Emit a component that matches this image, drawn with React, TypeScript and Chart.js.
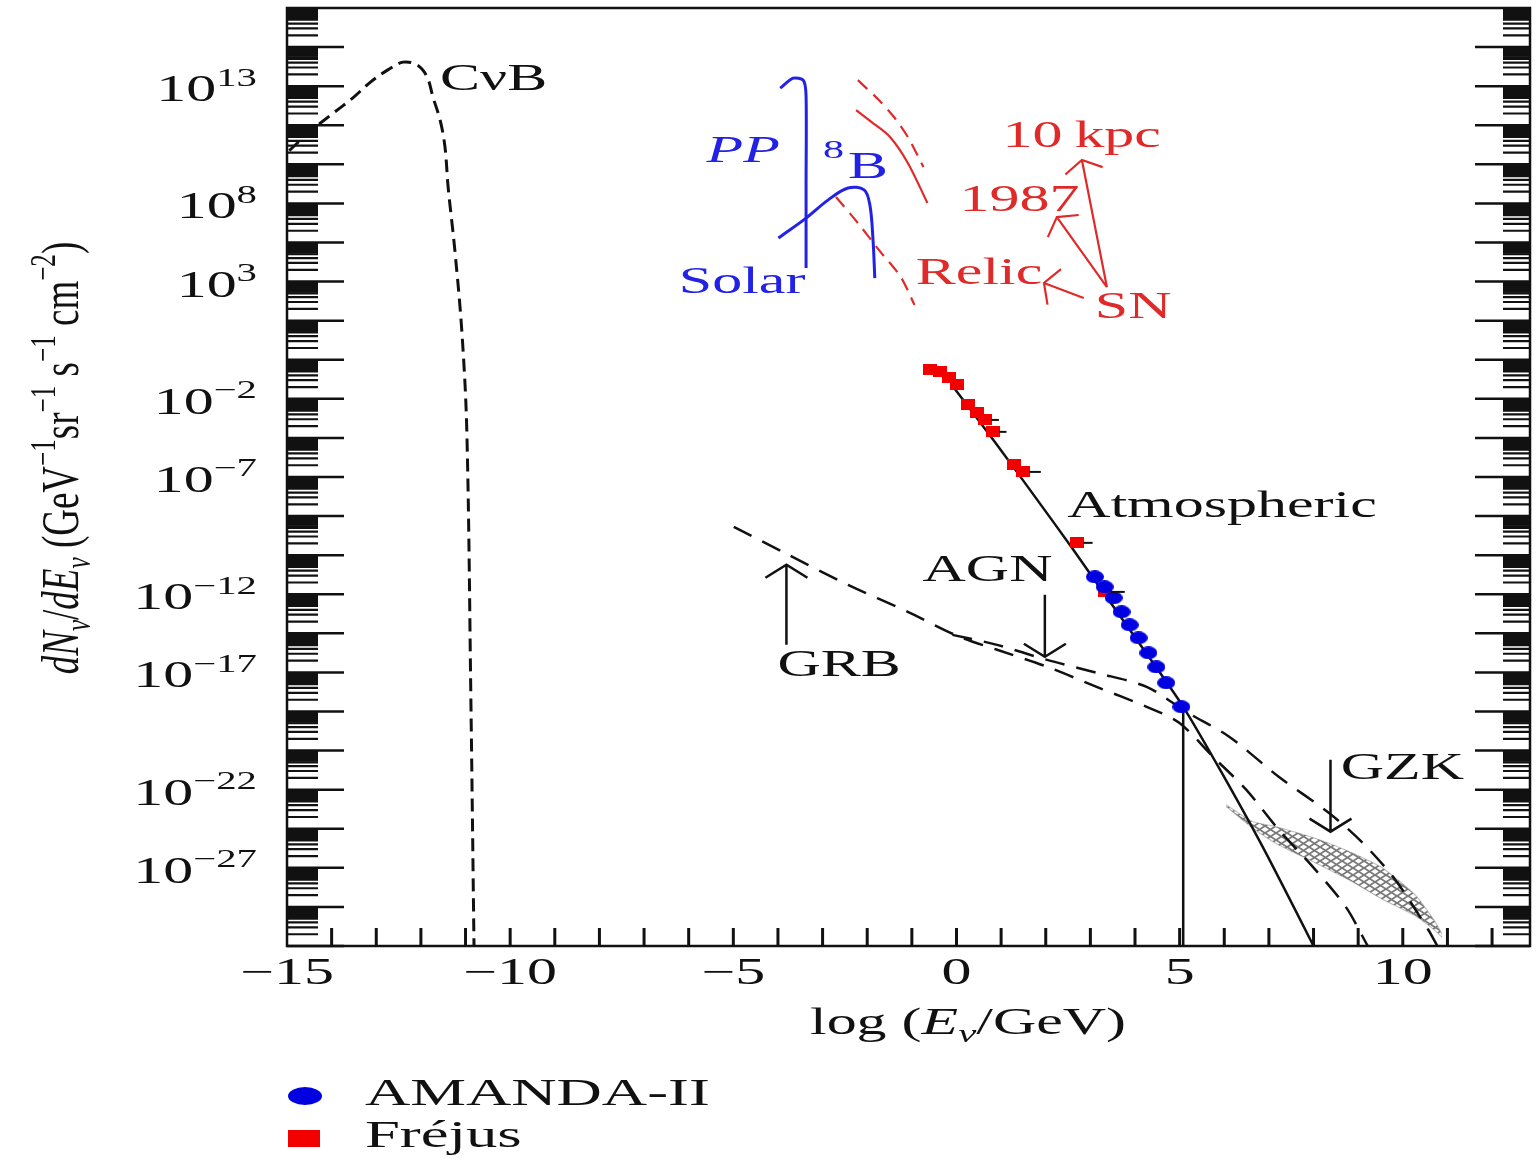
import React, { useEffect, useRef } from "react";
import { Chart, registerables } from "chart.js";

Chart.register(...registerables);

// x = log10(E / GeV), y = log10 of dN/dE flux (decades)
const X_MIN = -15;
const X_MAX = 12.85;
const Y_MIN = -31;
const Y_MAX = 17;
const X_TICK_LABELS = [-15, -10, -5, 0, 5, 10];
const Y_LABEL_POS = [13, 7, 3, -3, -7, -13, -17, -23, -27];
const Y_LABEL_EXP = ["13", "8", "3", "\u22122", "\u22127", "\u221212", "\u221217", "\u221222", "\u221227"];

// Cosmic neutrino background (CνB)
const CNB_X = [-14.95, -14.5, -14.02, -13.53, -13.13, -12.75, -12.4, -12.08, -11.86, -11.73, -11.57, -11.46, -11.39, -11.24, -11.08, -10.97, -10.88, -10.81];
const CNB_Y = [9.7, 10.65, 11.52, 12.39, 13.21, 13.82, 14.23, 14.08, 13.47, 12.44, 11.27, 9.88, 7.84, 4.62, 0.37, -4.74, -18.4, -31.0];

// Solar pp line
const PP_X = [-3.95, -3.66, -3.43, -3.37, -3.37, -3.37];
const PP_Y = [12.9, 13.41, 13.3, 12.5, 8.0, 3.7];

// Solar 8B spectrum
const B8_X = [-3.99, -3.37, -2.88, -2.43, -2.07, -1.94, -1.87, -1.83];
const B8_Y = [5.23, 6.25, 7.17, 7.79, 7.69, 6.92, 5.13, 3.18];

// Supernova curves
const SN1987_X = [-2.25, -1.9, -1.49, -1.09, -0.65];
const SN1987_Y = [11.78, 11.16, 10.4, 9.07, 7.02];
const SN10KPC_X = [-2.21, -1.74, -1.4, -1.09, -0.74];
const SN10KPC_Y = [13.31, 12.29, 11.42, 10.4, 8.86];
const RELIC_X = [-2.7, -2.21, -1.74, -1.25, -0.94];
const RELIC_Y = [7.33, 6.0, 4.62, 3.24, 1.8];

// Atmospheric spectrum
const ATM_X = [-0.1, 0.91, 1.81, 2.59, 3.14, 4.04, 5.08, 5.93, 6.87, 8.0, 8.1];
const ATM_Y = [-2.3, -5.36, -8.17, -10.63, -12.42, -15.33, -18.76, -22.08, -25.97, -31.0, -31.5];

// Fréjus data
const FREJUS_X = [-0.6, -0.38, -0.16, 0.02, 0.25, 0.47, 0.65, 0.82, 1.29, 1.49, 2.7, 3.32];
const FREJUS_Y = [-1.52, -1.62, -1.93, -2.29, -3.31, -3.72, -4.08, -4.69, -6.38, -6.74, -10.37, -12.88];
const FREJUS_XERR = [0, 0, 0, 0, 0, 0, 0.3, 0.3, 0, 0.4, 0.35, 0.45];

// AMANDA-II data
const AMANDA_X = [3.1, 3.32, 3.52, 3.7, 3.88, 4.08, 4.3, 4.48, 4.7, 5.04];
const AMANDA_Y = [-12.11, -12.62, -13.18, -13.9, -14.57, -15.23, -16.0, -16.72, -17.53, -18.76];

// vertical limit line
const LIMIT_X = [5.08, 5.08];
const LIMIT_Y = [-18.9, -31.5];

// GRB / AGN model curves (dashed)
const GRB_X = [-4.99, -3.77, -2.43, -1.09, 0.02, 0.91, 2.03, 3.14, 4.26, 4.99, 5.75, 6.49, 7.22, 7.98, 8.72, 9.21];
const GRB_Y = [-9.55, -10.98, -12.52, -13.9, -15.13, -15.84, -16.71, -17.74, -18.76, -19.58, -21.32, -23.0, -25.05, -26.94, -28.99, -30.98];
const AGN_X = [-0.09, 0.91, 2.03, 3.14, 4.26, 5.15, 6.11, 7.22, 8.34, 9.1, 9.83, 10.57, 10.77];
const AGN_Y = [-15.08, -15.59, -16.36, -17.02, -17.74, -19.02, -20.29, -22.34, -24.18, -25.72, -27.61, -30.17, -30.98];

// GZK band
const GZK_X = [6.04, 6.6, 7.16, 8.05, 8.78, 9.54, 10.28, 10.72, 10.88];
const GZK_HI = [-23.77, -24.6, -24.9, -25.5, -26.15, -27.0, -28.4, -29.75, -30.4];
const GZK_LO = [-23.85, -24.9, -25.75, -26.75, -27.6, -28.6, -29.45, -30.2, -30.55];

// annotations (data coordinates)
const TEXTS = [
  { text: "C\u03bdB", x: -11.57, y: 12.8, c: "k" },
  { text: "PP", x: -5.6, y: 9.12, c: "b", it: true },
  { text: "B", x: -2.43, y: 8.3, c: "b" },
  { text: "Solar", x: -6.22, y: 2.42, c: "b" },
  { text: "10\u2009kpc", x: 1.03, y: 9.88, c: "r" },
  { text: "1987", x: 0.07, y: 6.61, c: "r" },
  { text: "Relic", x: -0.91, y: 2.88, c: "r" },
  { text: "SN", x: 3.1, y: 1.14, c: "r" },
  { text: "Atmospheric", x: 2.48, y: -9.04, c: "k" },
  { text: "AGN", x: -0.76, y: -12.31, c: "k" },
  { text: "GRB", x: -4.01, y: -17.17, c: "k" },
  { text: "GZK", x: 8.61, y: -22.44, c: "k" },
];
const SUP_TEXTS = [{ text: "8", x: -2.99, y: 9.32, c: "b" }];
const ARROWS = [
  { from: [-3.81, -15.59], to: [-3.81, -11.49], c: "k" },
  { from: [1.98, -13.03], to: [1.98, -16.2], c: "k" },
  { from: [8.38, -21.47], to: [8.38, -25.15], c: "k" },
  { from: [3.37, 2.72], to: [2.81, 9.22], c: "r" },
  { from: [3.37, 2.72], to: [2.25, 6.3], c: "r" },
  { from: [2.85, 2.16], to: [1.96, 2.93], c: "r" },
];

const BLACK = "#111111";
const RED = "#e02a2a";
const BLUE = "#2222e6";
const DOT_BLUE = "#0000e0";
const SQ_RED = "#f20000";
const COLORS: Record<string, string> = { k: BLACK, r: RED, b: BLUE };

const FONT = '"Liberation Serif", "Times New Roman", serif';
const SX = 1.62;
const FS = 37;

type Run = { t: string; it?: boolean; sup?: boolean; sub?: boolean };

function fontStr(size: number, italic?: boolean) {
  return `${italic ? "italic " : ""}${size}px ${FONT}`;
}

function drawRuns(
  ctx: CanvasRenderingContext2D,
  runs: Run[],
  x: number,
  y: number,
  size: number,
  color: string,
  align: "left" | "center" | "right",
  rotate = false,
  sx = SX
) {
  const m = runs.map((r) => {
    const s = r.sup || r.sub ? size * 0.68 : size;
    ctx.font = fontStr(s, r.it);
    return { ...r, s, w: ctx.measureText(r.t).width };
  });
  const total = m.reduce((a, r) => a + r.w, 0);
  let cx = align === "left" ? 0 : align === "right" ? -total : -total / 2;
  ctx.save();
  ctx.translate(x, y);
  ctx.scale(sx, 1);
  if (rotate) ctx.rotate(-Math.PI / 2);
  ctx.fillStyle = color;
  ctx.textBaseline = "alphabetic";
  ctx.textAlign = "left";
  for (const r of m) {
    ctx.font = fontStr(r.s, r.it);
    const dy = r.sup ? -size * 0.42 : r.sub ? size * 0.22 : 0;
    ctx.fillText(r.t, cx, dy);
    cx += r.w;
  }
  ctx.restore();
}

function drawArrow(ctx: CanvasRenderingContext2D, x0: number, y0: number, x1: number, y1: number, color: string, lw: number, L: number, W: number) {
  const dx = x1 - x0;
  const dy = y1 - y0;
  const len = Math.hypot(dx, dy) || 1;
  const ux = dx / len;
  const uy = dy / len;
  const px = -uy;
  const py = ux;
  ctx.save();
  ctx.strokeStyle = color;
  ctx.lineWidth = lw;
  ctx.lineCap = "butt";
  ctx.beginPath();
  ctx.moveTo(x0, y0);
  ctx.lineTo(x1, y1);
  ctx.moveTo(x1 - ux * L + px * W, y1 - uy * L + py * W);
  ctx.lineTo(x1, y1);
  ctx.lineTo(x1 - ux * L - px * W, y1 - uy * L - py * W);
  ctx.stroke();
  ctx.restore();
}

const overlay = {
  id: "overlay",
  afterDatasetsDraw(chart: any) {
    const ctx: CanvasRenderingContext2D = chart.ctx;
    const xs = chart.scales.x;
    const ys = chart.scales.y;
    // Fréjus horizontal error bars
    ctx.save();
    ctx.strokeStyle = BLACK;
    ctx.lineWidth = 2;
    FREJUS_X.forEach((x, i) => {
      const e = FREJUS_XERR[i];
      if (!e) return;
      const py = ys.getPixelForValue(FREJUS_Y[i]);
      ctx.beginPath();
      ctx.moveTo(xs.getPixelForValue(x) + 6, py);
      ctx.lineTo(xs.getPixelForValue(x + e), py);
      ctx.stroke();
    });
    ctx.restore();
    // arrows
    ARROWS.forEach((a) => {
      const red = a.c === "r";
      drawArrow(
        ctx,
        xs.getPixelForValue(a.from[0]),
        ys.getPixelForValue(a.from[1]),
        xs.getPixelForValue(a.to[0]),
        ys.getPixelForValue(a.to[1]),
        COLORS[a.c],
        red ? 2.2 : 2.5,
        red ? 11 : 13,
        red ? 19 : 21
      );
    });
    // annotation texts
    TEXTS.forEach((t) => {
      drawRuns(ctx, [{ t: t.text, it: (t as any).it }], xs.getPixelForValue(t.x), ys.getPixelForValue(t.y), FS, COLORS[t.c], "left");
    });
    SUP_TEXTS.forEach((t) => {
      drawRuns(ctx, [{ t: t.text }], xs.getPixelForValue(t.x), ys.getPixelForValue(t.y), 26, COLORS[t.c], "left");
    });
  },
  afterDraw(chart: any) {
    const ctx: CanvasRenderingContext2D = chart.ctx;
    const a = chart.chartArea;
    const xs = chart.scales.x;
    const ys = chart.scales.y;
    ctx.save();
    ctx.strokeStyle = BLACK;
    // frame
    ctx.lineWidth = 2.5;
    ctx.strokeRect(a.left, a.top, a.right - a.left, a.bottom - a.top);
    // x ticks (inward, bottom)
    ctx.lineWidth = 3;
    for (let v = Math.ceil(X_MIN) + 1; v <= Math.floor(X_MAX); v++) {
      const px = xs.getPixelForValue(v);
      ctx.beginPath();
      ctx.moveTo(px, a.bottom);
      ctx.lineTo(px, a.bottom - 18);
      ctx.stroke();
    }
    // y major ticks every 2 decades, with log minor ticks in between
    for (let v = 15; v >= Y_MIN; v -= 2) {
      const py = ys.getPixelForValue(v);
      ctx.lineWidth = 2.5;
      ctx.beginPath();
      ctx.moveTo(a.left, py);
      ctx.lineTo(a.left + 57, py);
      ctx.moveTo(a.right, py);
      ctx.lineTo(a.right - 55, py);
      ctx.stroke();
    }
    ctx.lineWidth = 2.2;
    const mins = [2, 3, 4, 5, 6, 7, 8, 9, 5.5, 6.5, 7.5, 8.5, 9.5];
    for (let v = 17; v >= Y_MIN; v -= 2) {
      const lo = v - 2;
      for (const m of mins) {
        const val = lo + 2 * Math.log10(m);
        if (val > Y_MAX || val < Y_MIN) continue;
        const py = ys.getPixelForValue(val);
        ctx.beginPath();
        ctx.moveTo(a.left, py);
        ctx.lineTo(a.left + 31, py);
        ctx.moveTo(a.right, py);
        ctx.lineTo(a.right - 27, py);
        ctx.stroke();
      }
    }
    ctx.restore();

    // x tick labels
    X_TICK_LABELS.forEach((v) => {
      const s = v < 0 ? "\u2212" + Math.abs(v) : String(v);
      drawRuns(ctx, [{ t: s }], xs.getPixelForValue(v), a.bottom + 38, FS, BLACK, "center");
    });
    // y tick labels
    Y_LABEL_POS.forEach((v, i) => {
      drawRuns(ctx, [{ t: "10" }, { t: Y_LABEL_EXP[i], sup: true }], 257, ys.getPixelForValue(v) + 15, FS, BLACK, "right");
    });
    // axis titles
    drawRuns(
      ctx,
      [{ t: "log (" }, { t: "E", it: true }, { t: "\u03bd", sub: true, it: true }, { t: "/GeV)" }],
      968,
      1034,
      FS,
      BLACK,
      "center"
    );
    drawRuns(
      ctx,
      [
        { t: "dN", it: true },
        { t: "\u03bd", sub: true, it: true },
        { t: "/" },
        { t: "dE", it: true },
        { t: "\u03bd", sub: true, it: true },
        { t: " (GeV" },
        { t: "\u22121", sup: true },
        { t: "sr" },
        { t: "\u22121", sup: true },
        { t: " s" },
        { t: "\u22121", sup: true },
        { t: " cm" },
        { t: "\u22122", sup: true },
        { t: ")" },
      ],
      78,
      458,
      FS,
      BLACK,
      "center",
      true,
      1.45
    );
    // legend
    const d0 = chart.data.datasets[0];
    const d1 = chart.data.datasets[1];
    ctx.save();
    ctx.fillStyle = DOT_BLUE;
    ctx.beginPath();
    ctx.ellipse(305, 1096, 17, 9, 0, 0, Math.PI * 2);
    ctx.fill();
    ctx.fillStyle = SQ_RED;
    ctx.fillRect(288, 1130, 32, 17);
    ctx.restore();
    drawRuns(ctx, [{ t: d0.label }], 365, 1105, 38, BLACK, "left", false, 1.65);
    drawRuns(ctx, [{ t: d1.label }], 365, 1147, 38, BLACK, "left", false, 1.65);
  },
};

function makeEllipse(w: number, h: number, color: string) {
  const c = document.createElement("canvas");
  c.width = w;
  c.height = h;
  const g = c.getContext("2d")!;
  g.fillStyle = color;
  g.beginPath();
  g.ellipse(w / 2, h / 2, w / 2, h / 2, 0, 0, Math.PI * 2);
  g.fill();
  return c;
}

function makeRect(w: number, h: number, color: string) {
  const c = document.createElement("canvas");
  c.width = w;
  c.height = h;
  const g = c.getContext("2d")!;
  g.fillStyle = color;
  g.fillRect(0, 0, w, h);
  return c;
}

function makeHatch(ctx: CanvasRenderingContext2D) {
  const c = document.createElement("canvas");
  c.width = 11;
  c.height = 7;
  const g = c.getContext("2d")!;
  g.strokeStyle = "#7a7a7a";
  g.lineWidth = 1.8;
  g.beginPath();
  g.moveTo(0, 7);
  g.lineTo(11, 0);
  g.moveTo(0, 0);
  g.lineTo(11, 7);
  g.stroke();
  return ctx.createPattern(c, "repeat");
}

function pts(xs: number[], ys: number[]) {
  return xs.map((x, i) => ({ x, y: ys[i] }));
}

export default function App() {
  const ref = useRef<HTMLCanvasElement | null>(null);

  useEffect(() => {
    const canvas = ref.current;
    if (!canvas) return;
    const ctx = canvas.getContext("2d")!;
    const dot = makeEllipse(18, 13, DOT_BLUE);
    const sq = makeRect(14, 11, SQ_RED);
    const hatch = makeHatch(ctx);

    const line = (label: string, xs: number[], ys: number[], extra: any) => ({
      label,
      data: pts(xs, ys),
      showLine: true,
      pointRadius: 0,
      pointHoverRadius: 0,
      fill: false,
      tension: 0.3,
      borderColor: BLACK,
      borderWidth: 2.5,
      ...extra,
    });

    const chart = new Chart(canvas, {
      type: "scatter",
      data: {
        datasets: [
          { label: "AMANDA-II", data: pts(AMANDA_X, AMANDA_Y), showLine: false, pointStyle: dot, pointRadius: 6, pointHoverRadius: 6 },
          { label: "Fr\u00e9jus", data: pts(FREJUS_X, FREJUS_Y), showLine: false, pointStyle: sq, pointRadius: 6, pointHoverRadius: 6 },
          line("Atmospheric", ATM_X, ATM_Y, { tension: 0.25 }),
          line("Limit", LIMIT_X, LIMIT_Y, { tension: 0 }),
          line("GRB", GRB_X, GRB_Y, { borderDash: [20, 12], borderWidth: 2.5 }),
          line("AGN", AGN_X, AGN_Y, { borderDash: [20, 12], borderWidth: 2.5 }),
          line("GZK upper", GZK_X, GZK_HI, { borderColor: "rgba(120,120,120,0.45)", borderWidth: 1.2, fill: "+1", backgroundColor: hatch, tension: 0.2 }),
          line("GZK lower", GZK_X, GZK_LO, { borderColor: "rgba(120,120,120,0.45)", borderWidth: 1.2, tension: 0.2 }),
          line("C\u03bdB", CNB_X, CNB_Y, { borderDash: [13, 7], borderWidth: 3, tension: 0.35 }),
          line("pp", PP_X, PP_Y, { borderColor: BLUE, borderWidth: 3, tension: 0.25 }),
          line("8B", B8_X, B8_Y, { borderColor: BLUE, borderWidth: 3, tension: 0.35 }),
          line("SN 1987", SN1987_X, SN1987_Y, { borderColor: RED, borderWidth: 2.2 }),
          line("SN 10 kpc", SN10KPC_X, SN10KPC_Y, { borderColor: RED, borderWidth: 2.2, borderDash: [13, 8] }),
          line("Relic", RELIC_X, RELIC_Y, { borderColor: RED, borderWidth: 2.2, borderDash: [13, 8] }),
        ],
      },
      options: {
        responsive: false,
        animation: false,
        devicePixelRatio: 1,
        events: [],
        layout: { padding: { left: 287, top: 8, right: 2, bottom: 212 } },
        scales: {
          x: { type: "linear", min: X_MIN, max: X_MAX, display: false },
          y: { type: "linear", min: Y_MIN, max: Y_MAX, display: false },
        },
        plugins: {
          legend: { display: false },
          tooltip: { enabled: false },
        },
      },
      plugins: [overlay],
    } as any);

    return () => chart.destroy();
  }, []);

  return (
    <div style={{ position: "fixed", left: 0, top: 0, width: 1537, height: 1158, background: "#ffffff" }}>
      <canvas ref={ref} width={1537} height={1158} style={{ display: "block", width: 1537, height: 1158 }} />
    </div>
  );
}
